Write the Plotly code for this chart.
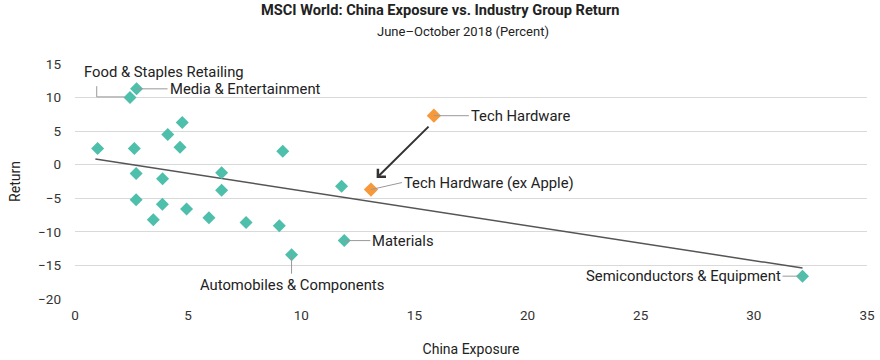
import plotly.graph_objects as go

# Industry groups (teal)
exposure = [1.0, 2.43, 2.72, 2.62, 4.1, 4.74, 4.64, 9.18, 2.7, 3.87, 6.48, 6.48, 11.78,
            2.7, 3.86, 3.46, 4.93, 5.92, 7.56, 9.03, 9.57, 11.9, 32.15]
returns = [2.4, 10.0, 11.3, 2.4, 4.5, 6.3, 2.6, 2.0, -1.3, -2.1, -1.2, -3.8, -3.2,
           -5.2, -5.9, -8.2, -6.6, -7.9, -8.6, -9.1, -13.4, -11.3, -16.6]

# Tech hardware (orange)
tech_names = ["Tech Hardware", "Tech Hardware (ex Apple)"]
tech_exposure = [15.86, 13.08]
tech_returns = [7.3, -3.7]

# Trend line endpoints
trend_x = [0.9, 32.15]
trend_y = [0.85, -15.4]

teal = "#4DBFAA"
orange = "#F7993A"
font = "Roboto"
LBL = 14.8

fig = go.Figure()
fig.add_trace(go.Scatter(x=trend_x, y=trend_y, mode="lines",
                         line=dict(color="#555555", width=1.5), hoverinfo="skip"))
fig.add_trace(go.Scatter(x=exposure, y=returns, mode="markers",
                         marker=dict(symbol="diamond", size=10, color=teal)))
fig.add_trace(go.Scatter(x=tech_exposure, y=tech_returns, mode="markers",
                         marker=dict(symbol="diamond", size=11, color=orange)))

lead = dict(showarrow=True, arrowhead=0, arrowwidth=1, arrowcolor="#999999",
            font=dict(family=font, size=LBL, color="#222222"), standoff=0)

ann = [
    dict(x=exposure[2], y=returns[2], text="Media & Entertainment", xanchor="left",
         ax=31, ay=0, **lead),
    dict(x=tech_exposure[0], y=tech_returns[0], text=tech_names[0], xanchor="left",
         ax=35, ay=0, **lead),
    dict(x=tech_exposure[1], y=tech_returns[1], text=tech_names[1], xanchor="left",
         ax=31, ay=-7, **lead),
    dict(x=exposure[21], y=returns[21], text="Materials", xanchor="left",
         ax=26, ay=0, **lead),
    dict(x=exposure[22], y=returns[22], text="Semiconductors & Equipment", xanchor="right",
         ax=-20, ay=0, **lead),
    dict(x=exposure[20], y=returns[20], text="Automobiles & Components", yanchor="top",
         ax=0, ay=19, **lead),
    dict(x=0.3, y=13.8, text="Food & Staples Retailing", xanchor="left", yanchor="middle",
         showarrow=False, font=dict(family=font, size=LBL, color="#222222")),
    # arrow from Tech Hardware to ex Apple
    dict(x=13.33, y=-1.98, ax=15.69, ay=5.9, axref="x", ayref="y", text="",
         showarrow=True, arrowhead=4, arrowsize=1.1, arrowwidth=2, arrowcolor="#333333"),
    # titles
    dict(x=0.461, y=1, xref="paper", yref="paper", yshift=54, xanchor="center", yanchor="middle",
         text="<b>MSCI World: China Exposure vs. Industry Group Return</b>",
         showarrow=False, font=dict(family=font, size=14.6, color="#222222")),
    dict(x=0.49, y=1, xref="paper", yref="paper", yshift=33, xanchor="center", yanchor="middle",
         text="June–October 2018 (Percent)",
         showarrow=False, font=dict(family=font, size=13, color="#222222")),
]

fig.update_layout(
    width=880, height=360,
    margin=dict(l=75, r=13, t=64, b=61, autoexpand=False),
    paper_bgcolor="white", plot_bgcolor="white",
    showlegend=False,
    annotations=ann,
    shapes=[dict(type="path", xref="x", yref="y",
                 path="M 0.96,11.7 L 0.96,10.1 L 2.2,10.1",
                 line=dict(color="#999999", width=1))],
    font=dict(family=font, size=13, color="#333333"),
)
fig.update_xaxes(range=[0, 35], dtick=5, showgrid=False, zeroline=False, showline=False,
                 ticks="", tickfont=dict(size=13.5, color="#333333"), automargin=False,
                 ticklabelstandoff=6,
                 title=dict(text="China Exposure", standoff=22, font=dict(size=14, color="#222222")))
fig.update_yaxes(range=[-20, 15], dtick=5, showgrid=True, gridcolor="#d9d9d9", gridwidth=1,
                 zeroline=False, showline=False, ticks="", tickfont=dict(size=13.5, color="#333333"),
                 automargin=False, ticklabelstandoff=13,
                 title=dict(text="Return", standoff=14, font=dict(size=14, color="#222222")))

fig.write_html("out.html", config={"displayModeBar": False},
               post_script="document.body.style.margin='0';")
